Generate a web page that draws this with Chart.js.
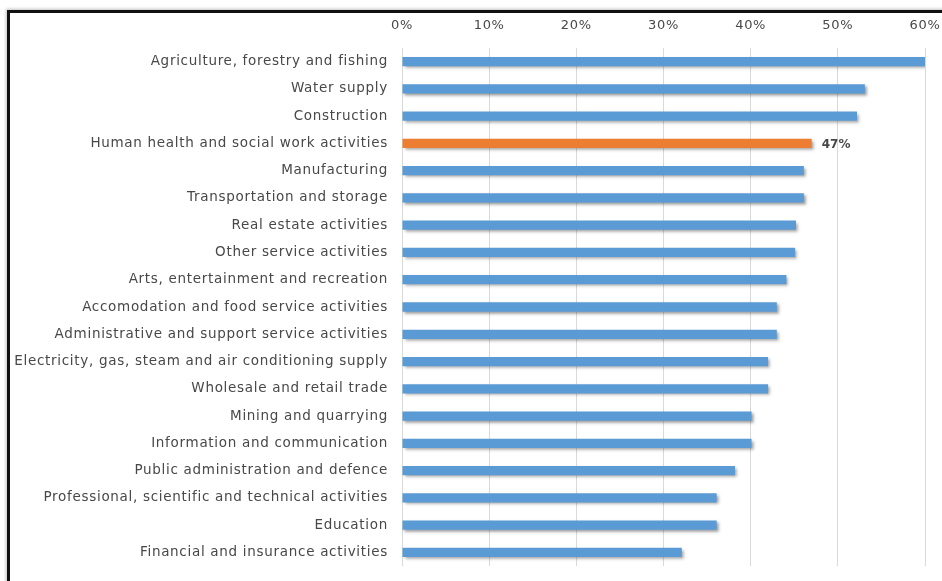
<!DOCTYPE html>
<html>
<head>
<meta charset="utf-8">
<script src="https://cdn.jsdelivr.net/npm/chart.js@4/dist/chart.umd.min.js"></script>
<style>
  html, body { margin: 0; padding: 0; background: #fff; }
  #wrap { position: relative; width: 942px; height: 581px; overflow: hidden; }
  #frame {
    position: absolute; left: 7px; top: 10px; width: 960px; height: 600px;
    border-left: 3px solid #111; border-top: 3px solid #111;
    box-shadow: -1px -1px 3px rgba(0,0,0,0.25);
    pointer-events: none;
  }
  canvas { position: absolute; left: 0; top: 0; }
</style>
</head>
<body>
<div id="wrap">
  <canvas id="chart" width="942" height="581"></canvas>
  <div id="frame"></div>
</div>
<script>
// Share of employees by economic activity (%)
const sectors = [
  "Agriculture, forestry and fishing",
  "Water supply",
  "Construction",
  "Human health and social work activities",
  "Manufacturing",
  "Transportation and storage",
  "Real estate activities",
  "Other service activities",
  "Arts, entertainment and recreation",
  "Accomodation and food service activities",
  "Administrative and support service activities",
  "Electricity, gas, steam and air conditioning supply",
  "Wholesale and retail trade",
  "Mining and quarrying",
  "Information and communication",
  "Public administration and defence",
  "Professional, scientific and technical activities",
  "Education",
  "Financial and insurance activities"
];
const shares = [60, 53.1, 52.2, 47, 46.1, 46.1, 45.2, 45.1, 44.1, 43.0, 43.0, 42.0, 42.0, 40.1, 40.1, 38.2, 36.1, 36.1, 32.1];
const axisTicks = [0, 10, 20, 30, 40, 50, 60];
const highlightSector = "Human health and social work activities";

const BLUE = "#5B9BD5";
const ORANGE = "#ED7D31";
const TEXT = "#484848";
const FONT = "'DejaVu Sans', sans-serif";

const barColors = sectors.map(s => s === highlightSector ? ORANGE : BLUE);

// slightly spaced-out lettering for all chart text
const textSpacing = {
  id: "textSpacing",
  beforeDraw(chart) { chart.ctx.letterSpacing = "0.7px"; },
  afterDraw(chart) { chart.ctx.letterSpacing = "0px"; }
};

// soft drop shadow under the bars
const barShadow = {
  id: "barShadow",
  beforeDatasetsDraw(chart) {
    const ctx = chart.ctx;
    ctx.save();
    ctx.shadowColor = "rgba(60,60,60,0.5)";
    ctx.shadowBlur = 3;
    ctx.shadowOffsetX = 2;
    ctx.shadowOffsetY = 2;
  },
  afterDatasetsDraw(chart) {
    chart.ctx.restore();
  }
};

// value label next to the highlighted bar
const highlightLabel = {
  id: "highlightLabel",
  afterDatasetsDraw(chart) {
    const idx = sectors.indexOf(highlightSector);
    const bar = chart.getDatasetMeta(0).data[idx];
    const ctx = chart.ctx;
    ctx.save();
    ctx.letterSpacing = "0px";
    ctx.font = "bold 12px " + FONT;
    ctx.fillStyle = TEXT;
    ctx.textAlign = "left";
    ctx.textBaseline = "middle";
    ctx.fillText(Math.round(shares[idx]) + "%", bar.x + 10, bar.y + 1);
    ctx.restore();
  }
};

new Chart(document.getElementById("chart"), {
  type: "bar",
  data: {
    labels: sectors,
    datasets: [{
      data: shares,
      backgroundColor: barColors,
      borderWidth: 0,
      barPercentage: 0.34,
      categoryPercentage: 1.0
    }]
  },
  options: {
    indexAxis: "y",
    responsive: false,
    animation: false,
    devicePixelRatio: 1,
    layout: { padding: { left: 0, right: 17, top: 0, bottom: 15 } },
    plugins: {
      legend: { display: false },
      tooltip: { enabled: false }
    },
    scales: {
      x: {
        position: "top",
        min: 0,
        max: 60,
        afterBuildTicks(scale) { scale.ticks = axisTicks.map(v => ({ value: v })); },
        afterFit(scale) {
          scale.height = 48;
          scale.paddingLeft = 0;
          scale.paddingRight = 0;
        },
        border: { display: false },
        grid: { color: "#D9D9D9", lineWidth: 1, drawTicks: false },
        ticks: {
          padding: 15,
          color: TEXT,
          font: { family: FONT, size: 13 },
          callback: v => v + "%"
        }
      },
      y: {
        afterFit(scale) {
          scale.width = 402;
          scale.paddingTop = 0;
          scale.paddingBottom = 0;
        },
        border: { display: false },
        grid: { display: false, drawTicks: false },
        ticks: {
          padding: 14,
          color: TEXT,
          font: { family: FONT, size: 13.5 },
          autoSkip: false
        }
      }
    }
  },
  plugins: [textSpacing, barShadow, highlightLabel]
});
</script>
</body>
</html>
